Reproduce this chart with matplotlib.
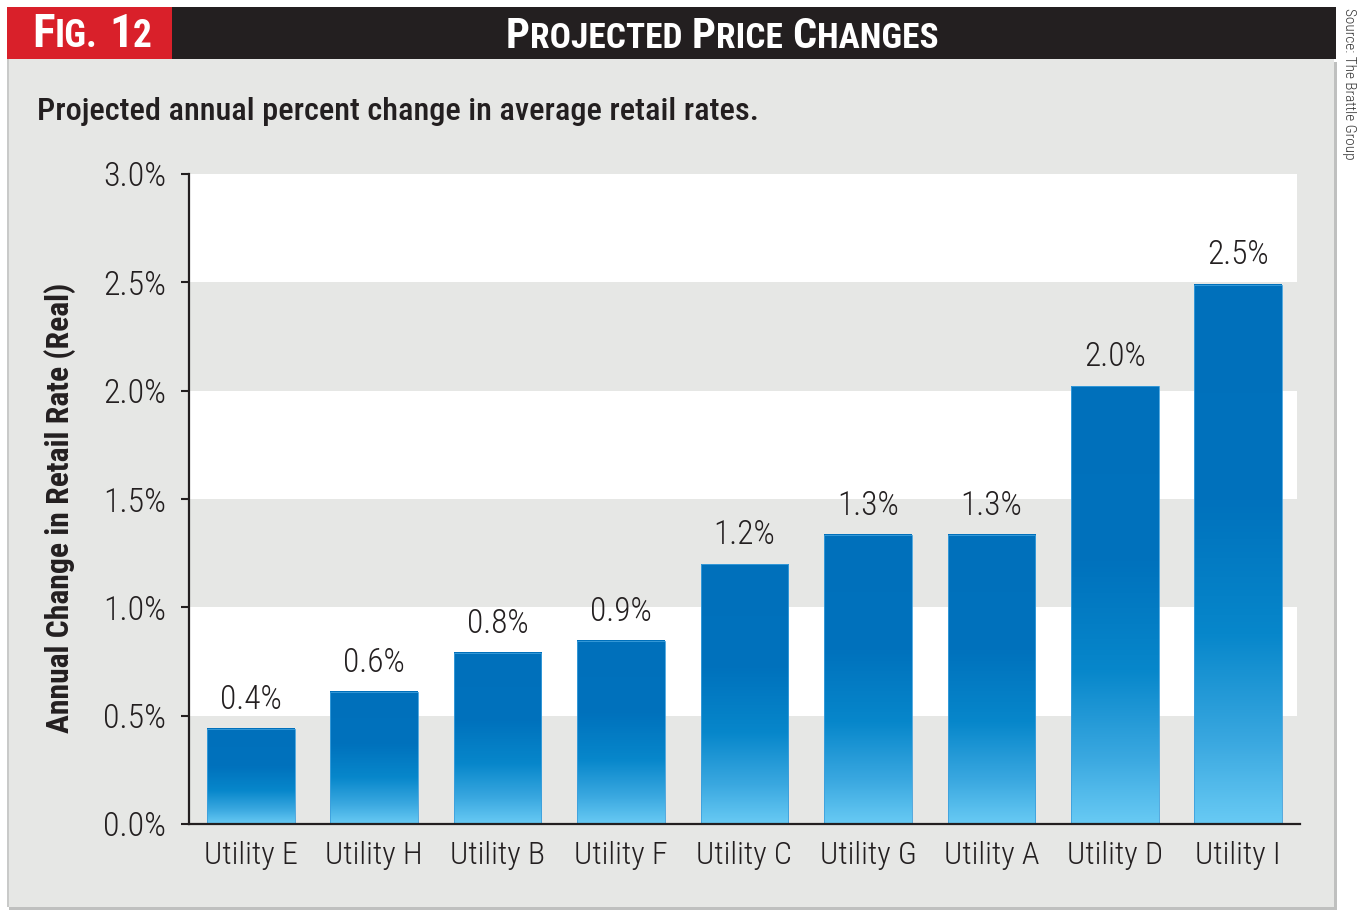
import matplotlib
matplotlib.use("Agg")
import matplotlib.pyplot as plt
import numpy as np
from matplotlib.colors import LinearSegmentedColormap
from matplotlib.patches import Rectangle
from matplotlib.offsetbox import TextArea, HPacker, AnchoredOffsetbox

plt.rcParams['font.family'] = ['Roboto Condensed', 'IBM Plex Sans Condensed', 'DejaVu Sans']

# data
utilities = ["Utility E", "Utility H", "Utility B", "Utility F", "Utility C",
             "Utility G", "Utility A", "Utility D", "Utility I"]
changes = [0.44, 0.61, 0.79, 0.845, 1.20, 1.335, 1.335, 2.02, 2.49]
value_labels = ["0.4%", "0.6%", "0.8%", "0.9%", "1.2%", "1.3%", "1.3%", "2.0%", "2.5%"]
yticks = [0.0, 0.5, 1.0, 1.5, 2.0, 2.5, 3.0]
ytick_labels = ["0.0%", "0.5%", "1.0%", "1.5%", "2.0%", "2.5%", "3.0%"]

panel = '#e6e7e5'
ink = '#231f20'
W, H = 1364, 915

fig = plt.figure(figsize=(W / 100, H / 100), dpi=100)
fig.patch.set_facecolor('white')

def fx(px):
    return px / W

def fy(py):
    return 1 - py / H

def frect(x0, y0, x1, y1, color):
    fig.add_artist(Rectangle((fx(x0), fy(y1)), fx(x1) - fx(x0), fy(y0) - fy(y1),
                             transform=fig.transFigure, facecolor=color,
                             edgecolor='none', zorder=-10))

# panel + shadow
frect(9, 62, 1337, 910, '#bfc0bf')
frect(7, 59, 1334, 907, panel)
frect(7, 59, 9, 907, '#c9cac9')
# header
frect(7, 7, 172, 59, '#d9202a')
frect(172, 7, 1336, 59, ink)

def small_caps(words, big, small, sep):
    boxes = []
    for w in words:
        parts = [TextArea(w[0], textprops=dict(color='white', fontsize=big, fontweight='bold'))]
        if len(w) > 1:
            parts.append(TextArea(w[1:], textprops=dict(color='white', fontsize=small, fontweight='bold')))
        boxes.append(HPacker(children=parts, align='baseline', pad=0, sep=0))
    return HPacker(children=boxes, align='baseline', pad=0, sep=sep)

fig_box = small_caps(["FIG.", "12"], 34, 27, 8)
fig.add_artist(AnchoredOffsetbox(loc='center', child=fig_box, frameon=False,
                                 bbox_to_anchor=(fx(92), fy(34)),
                                 bbox_transform=fig.transFigure, pad=0, borderpad=0))

title_box = small_caps(["PROJECTED", "PRICE", "CHANGES"], 30.5, 25.5, 7)
fig.add_artist(AnchoredOffsetbox(loc='center', child=title_box, frameon=False,
                                 bbox_to_anchor=(fx(722), fy(36)),
                                 bbox_transform=fig.transFigure, pad=0, borderpad=0))

fig.text(fx(37), fy(111), "Projected annual percent change in average retail rates.",
         fontsize=23.3, fontweight='medium', color=ink, va='center', ha='left')
fig.text(fx(1349), fy(8), "Source: The Brattle Group", rotation=-90, fontsize=11,
         fontweight='light', color='#333333', ha='center', va='top')
fig.text(fx(60), fy(508), "Annual Change in Retail Rate (Real)", rotation=90,
         fontsize=22.8, fontweight='semibold', color=ink, ha='center', va='center')

# axes
ax = fig.add_axes([fx(189), fy(824), fx(1300) - fx(189), fy(174) - fy(824)])
ax.set_facecolor(panel)
for lo in [0.5, 1.5, 2.5]:
    ax.axhspan(lo, lo + 0.5, xmax=0.997, color='white', zorder=0, lw=0)

cmap = LinearSegmentedColormap.from_list('bars', [
    (0.0, '#0070bb'), (0.4, '#0072bd'), (0.65, '#0787cb'),
    (0.85, '#3aa8e0'), (1.0, '#68caf4')])
grad = np.linspace(0, 1, 256).reshape(-1, 1)

x = np.arange(len(utilities))
width = 0.71
bars = ax.bar(x, changes, width=width, color='none', edgecolor='#3d9fdc', lw=0.6, zorder=3)
for b in bars:
    x0 = b.get_x()
    ax.imshow(grad, cmap=cmap, aspect='auto', origin='upper', zorder=2,
              extent=(x0, x0 + b.get_width(), 0, b.get_height()))

for xi, v, lab in zip(x, changes, value_labels):
    ax.annotate(lab, (xi, v), xytext=(0, 14.5), textcoords='offset points',
                ha='center', va='baseline', fontsize=24, fontweight='light', color=ink)

ax.set_xlim(-0.5, len(utilities) - 0.5)
ax.set_ylim(0, 3.0)
ax.set_yticks(yticks)
ax.set_yticklabels(ytick_labels, fontweight='light')
ax.set_xticks(x)
ax.set_xticklabels(utilities, fontweight='light')
ax.tick_params(axis='y', length=6, width=1.5, color=ink, pad=10.5, labelsize=24.5, labelcolor=ink)
ax.tick_params(axis='x', length=0, pad=12, labelsize=23, labelcolor=ink)
for s in ['top', 'right']:
    ax.spines[s].set_visible(False)
for s in ['left', 'bottom']:
    ax.spines[s].set_color(ink)
    ax.spines[s].set_linewidth(1.6)
    ax.spines[s].set_zorder(5)

fig.savefig('out.png', dpi=100)
